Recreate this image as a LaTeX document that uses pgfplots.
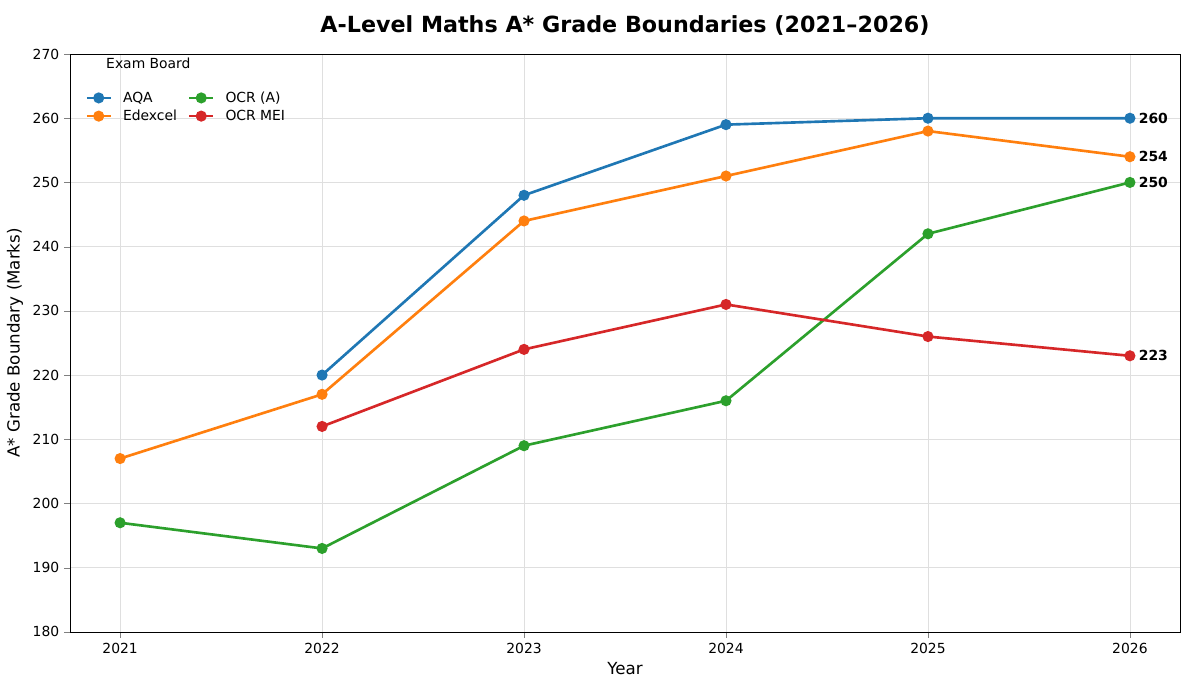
\documentclass[border=0pt]{standalone}
\usepackage{pgfplots}
\pgfplotsset{compat=1.18}
\usepackage{fontspec}
\setmainfont{DejaVu Sans}
\definecolor{tblue}{HTML}{1F77B4}
\definecolor{torange}{HTML}{FF7F0E}
\definecolor{tgreen}{HTML}{2CA02C}
\definecolor{tred}{HTML}{D62728}
\begin{document}
\begin{tikzpicture}[x=1pt,y=1pt]
\def\px{0.72pt}
\begin{axis}[
  width=799pt, height=416pt, scale only axis,
  xmin=2020.752, xmax=2026.248, ymin=180, ymax=270,
  xtick={2021,2022,2023,2024,2025,2026},
  xticklabels={2021,2022,2023,2024,2025,2026},
  ytick={180,190,...,270},
  tick align=outside, xtick pos=bottom, ytick pos=left,
  /pgf/number format/assume math mode=true,
  ticklabel style={font=\fontsize{10}{12}\selectfont},
  grid=major, grid style={gray!25, line width=0.5pt},
  xlabel={Year}, ylabel={A* Grade Boundary (Marks)},
  label style={font=\fontsize{12}{14}\selectfont},
  title={\textbf{A-Level Maths A* Grade Boundaries (2021–2026)}},
  title style={font=\fontsize{16}{19}\selectfont, yshift=4pt},
  legend columns=2, transpose legend,
  legend style={at={(0.01,0.945)}, anchor=north west, draw=none, fill=none,
    font=\fontsize{10}{12}\selectfont, column sep=6pt, row sep=0pt},
  legend cell align=left,
  every axis plot/.append style={line width=1.9pt, mark=*, mark size=3pt, mark options={solid}},
]
\addplot[color=tblue] coordinates {(2022,220)(2023,248)(2024,259)(2025,260)(2026,260)};
\addlegendentry{AQA}
\addplot[color=torange] coordinates {(2021,207)(2022,217)(2023,244)(2024,251)(2025,258)(2026,254)};
\addlegendentry{Edexcel}
\addplot[color=tgreen] coordinates {(2021,197)(2022,193)(2023,209)(2024,216)(2025,242)(2026,250)};
\addlegendentry{OCR (A)}
\addplot[color=tred] coordinates {(2022,212)(2023,224)(2024,231)(2025,226)(2026,223)};
\addlegendentry{OCR MEI}
\node[anchor=west, font=\fontsize{10}{12}\selectfont\bfseries] at (axis cs:2026.02,260) {260};
\node[anchor=west, font=\fontsize{10}{12}\selectfont\bfseries] at (axis cs:2026.02,254) {254};
\node[anchor=west, font=\fontsize{10}{12}\selectfont\bfseries] at (axis cs:2026.02,250) {250};
\node[anchor=west, font=\fontsize{10}{12}\selectfont\bfseries] at (axis cs:2026.02,223) {223};
\node[font=\fontsize{10}{12}\selectfont] at (axis cs:2021.14,268.6) {Exam Board};
\end{axis}
\useasboundingbox ([shift={(-70*0.72pt,-58*0.72pt)}]current axis.south west) rectangle ([shift={(9*0.72pt,54*0.72pt)}]current axis.north east);
\end{tikzpicture}
\end{document}
